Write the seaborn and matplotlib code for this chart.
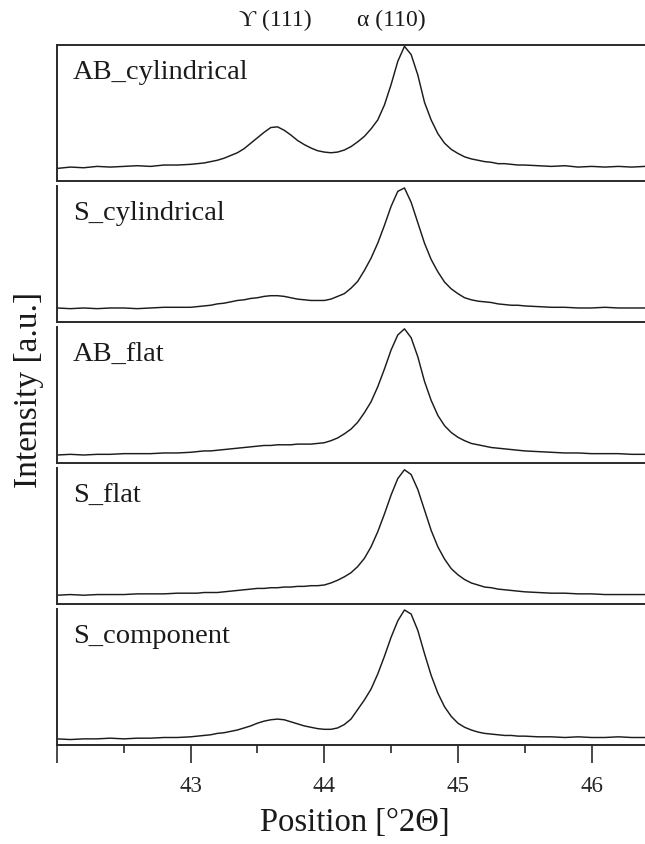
#%%
# --------------------
# pre-processing
# --------------------
import matplotlib
matplotlib.use('Agg')
import matplotlib.pyplot as plt
from matplotlib.ticker import FixedLocator
import pandas as pd
import seaborn as sns

#%%
# --------------------
# data (intensity in % of panel height)
# --------------------
position = [42.0, 42.1, 42.2, 42.3, 42.4, 42.5, 42.6, 42.7, 42.8, 42.9, 43.0,
            43.05, 43.10, 43.15, 43.20, 43.25, 43.30, 43.35, 43.40, 43.45, 43.50,
            43.55, 43.60, 43.65, 43.70, 43.75, 43.80, 43.85, 43.90, 43.95, 44.00,
            44.05, 44.10, 44.15, 44.20, 44.25, 44.30, 44.35, 44.40, 44.45, 44.50,
            44.55, 44.60, 44.65, 44.70, 44.75, 44.80, 44.85, 44.90, 44.95, 45.00,
            45.05, 45.10, 45.15, 45.20, 45.25, 45.30, 45.35, 45.40, 45.45, 45.50,
            45.6, 45.7, 45.8, 45.9, 46.0, 46.1, 46.2, 46.3, 46.4]

ab_cylindrical = [9.5, 10.5, 10, 11, 10.5, 11, 11.5, 11, 12, 12, 12.5,
                  13, 13.5, 14.5, 15.5, 17, 19, 21, 24, 28, 32,
                  36, 39.5, 40, 37.5, 34, 30, 27, 24.5, 22.5, 21.5,
                  21, 21.5, 23, 25.5, 29, 33, 38.5, 45, 56, 71,
                  88, 99, 93, 78, 58, 45, 35, 28, 23.5, 20.5,
                  18, 16.5, 15.5, 14.5, 14, 13, 13, 12.5, 12, 12,
                  11.5, 11, 11.5, 10.5, 11, 10.5, 11, 10.5, 11]

s_cylindrical = [10.5, 10, 10.5, 10, 10.5, 10.5, 10, 10.5, 11, 11, 11,
                 11.5, 12, 12.5, 13.5, 14, 15, 16, 16.5, 17.5, 18,
                 19, 19.5, 19.5, 19, 18, 17, 16.5, 16, 16, 16,
                 17, 19, 21, 25, 30, 38, 47, 58, 71, 85,
                 96, 98.5, 88, 73, 58, 46, 37, 29.5, 24.5, 21,
                 18, 16.5, 15.5, 15, 14.5, 13.5, 13, 12.5, 12.5, 12,
                 11.5, 11, 11, 10.5, 10.5, 11, 10.5, 10.5, 10.5]

ab_flat = [6, 6.5, 6, 6.5, 6.5, 7, 7, 7, 7.5, 7.5, 8,
           8.5, 9, 9, 9.5, 10, 10.5, 11, 11.5, 12, 12.5,
           13, 13, 13.5, 13.5, 13.5, 14, 14, 14, 14.5, 15,
           16.5, 18.5, 21.5, 25, 30, 37, 45, 56, 69, 83,
           94, 98.5, 92, 78, 60, 46, 35, 27.5, 22.5, 19,
           16.5, 14.5, 13.5, 12.5, 11.5, 11, 10.5, 10, 9.5, 9,
           8.5, 8, 7.5, 7.5, 7, 7, 7, 6.5, 6.5]

s_flat = [6.5, 7, 6.5, 7, 7, 7, 7.5, 7.5, 7.5, 8, 8,
          8, 8.5, 8.5, 8.5, 9, 9.5, 10, 10.5, 11, 11.5,
          11.5, 12, 12, 12.5, 12.5, 13, 13, 13.5, 13.5, 14,
          15.5, 17.5, 20, 23, 27.5, 33.5, 42, 53, 66, 80,
          92, 98.5, 95, 84, 69, 54, 42, 33, 26, 21.5,
          18, 15.5, 14, 12.5, 12, 11, 10.5, 10, 9.5, 9,
          8.5, 8, 8, 7.5, 7.5, 7, 7, 7, 7]

s_component = [4.5, 4, 4.5, 4.5, 5, 4.5, 5, 5, 5.5, 5.5, 6,
               6.5, 7, 7.5, 8.5, 9, 10, 11, 12.5, 14, 16,
               17.5, 18.5, 19, 18.5, 17, 15.5, 14, 13, 12, 11.5,
               11.5, 12.5, 15, 19, 26, 33, 41, 52, 65, 79,
               91, 99, 96, 84, 67, 51, 38, 28, 21, 16,
               13, 11, 9.5, 8.5, 8, 7.5, 7, 7, 6.5, 6.5,
               6, 6, 5.5, 6, 5.5, 5.5, 6, 5.5, 5.5]

sample_names = ['AB_cylindrical', 'S_cylindrical', 'AB_flat', 'S_flat', 'S_component']
peak_labels = ['\u03d2 (111)', '\u03b1 (110)']
peak_label_pos = [43.63, 44.50]
tick_vals = [42, 43, 44, 45, 46]
tick_text = ['', '43', '44', '45', '46']
minor_ticks = [42.5, 43.5, 44.5, 45.5]

series = [ab_cylindrical, s_cylindrical, ab_flat, s_flat, s_component]
df_list = []
for name, vals in zip(sample_names, series):
    df_list.append(pd.DataFrame({'position': position, 'intensity': vals, 'sample': name}))
alldf = pd.concat(df_list, ignore_index=True)

#%%
# --------------------
# plot
# --------------------
sns.set_style('ticks')
plt.rcParams['font.family'] = ['Liberation Serif', 'DejaVu Serif']

fig, axes = plt.subplots(5, 1, figsize=(6.45, 8.44), dpi=100, sharex=True)
fig.subplots_adjust(left=57/645, right=1.0, top=1-45/844, bottom=1-745/844, hspace=0.033)

for i, (ax, name) in enumerate(zip(axes, sample_names)):
    sns.lineplot(data=alldf[alldf['sample'] == name], x='position', y='intensity',
                 ax=ax, color='#1c1c1c', linewidth=1.05, estimator=None)
    ax.set_xlim(42, 46.4)
    ax.set_ylim(0, 100)
    ax.set_yticks([])
    ax.set_xlabel('')
    ax.set_ylabel('')
    ax.spines['right'].set_visible(False)
    if i > 0:
        ax.spines['top'].set_visible(False)
    for s in ['left', 'bottom', 'top']:
        ax.spines[s].set_color('#2a2a2a')
        ax.spines[s].set_linewidth(1.4)
    ax.text(0.027, 0.75, name, transform=ax.transAxes, fontsize=20.5,
            va='baseline', ha='left', color='#1a1a1a')
    if i < 4:
        ax.tick_params(axis='x', which='both', bottom=False, labelbottom=False)

# peak labels above the first panel
for lab, xpos in zip(peak_labels, peak_label_pos):
    axes[0].text(xpos, 1.18, lab, transform=axes[0].get_xaxis_transform(),
                 ha='center', va='center', fontsize=17, color='#1a1a1a')

bx = axes[-1]
bx.set_xticks(tick_vals)
bx.set_xticklabels(tick_text)
bx.xaxis.set_minor_locator(FixedLocator(minor_ticks))
bx.tick_params(axis='x', which='major', direction='out', length=13, width=1.2,
               pad=9, labelsize=16.5, color='#2a2a2a')
bx.tick_params(axis='x', which='minor', direction='out', length=6, width=1.2, color='#2a2a2a')
bx.set_xlabel('Position [\u00b02\u0398]', fontsize=23.5, color='#1a1a1a')
bx.xaxis.set_label_coords(0.507, -0.46)

fig.text(29/645, 1-390/844, 'Intensity [a.u.]', rotation=90, ha='center', va='center',
         fontsize=24, color='#1a1a1a')

fig.savefig('out.png', dpi=100)
